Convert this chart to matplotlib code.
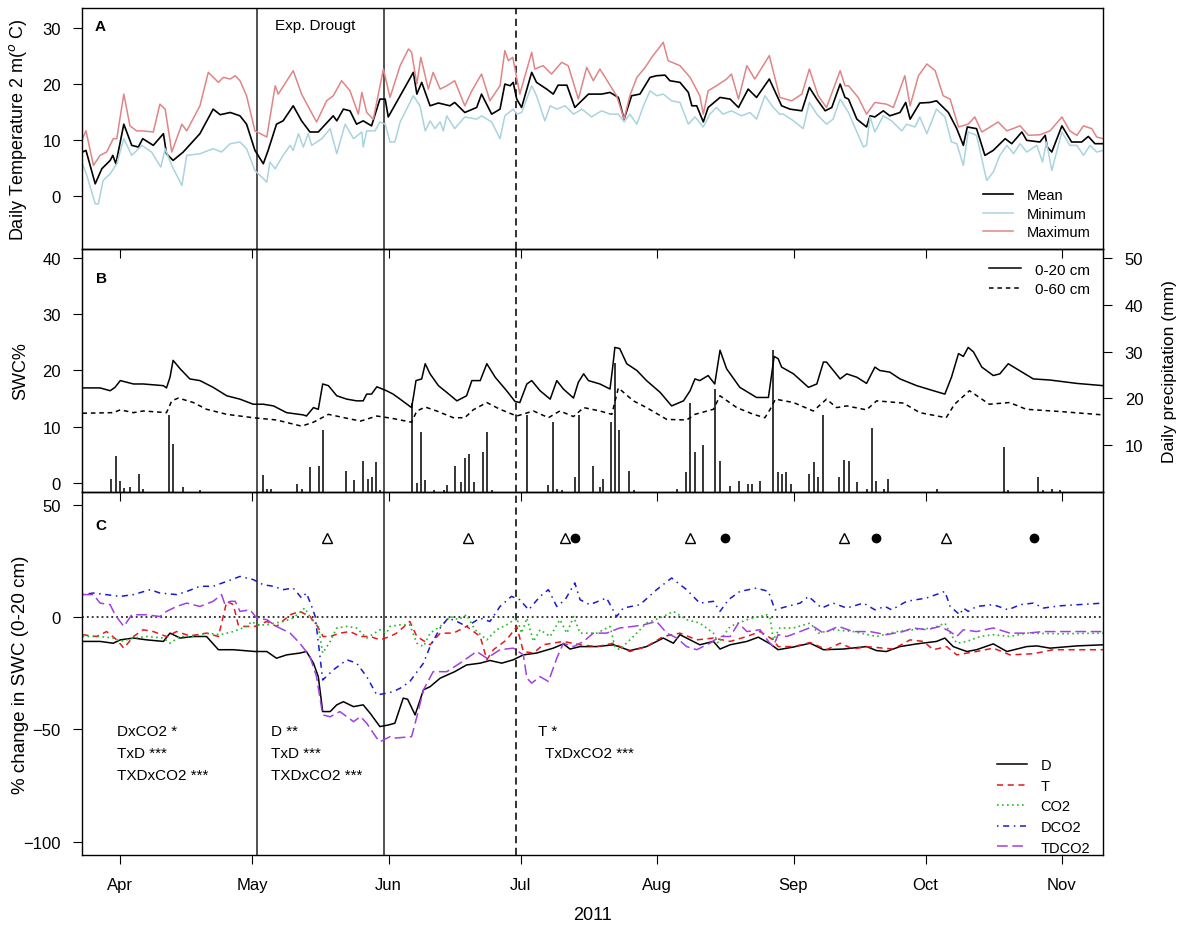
import numpy as np
import pandas as pd
import matplotlib
matplotlib.use('Agg')
import matplotlib.pyplot as plt
import matplotlib.dates as mdates
from matplotlib.lines import Line2D

plt.rcParams['font.family'] = ['Liberation Sans', 'DejaVu Sans']

# all x values are days counted from 1 April 2011
start = pd.Timestamp('2011-04-01')
x_range = [-8.6, 223.4]
exp_lines = [31, 60]          # drought start / end (solid)
dashed_line = 90              # 30 June
month_labels = ['Apr', 'May', 'Jun', 'Jul', 'Aug', 'Sep', 'Oct', 'Nov']

# ---- panel A : daily temperature (day, degC)
temp_mean = [(-8.6,7.8),(-7.8,8.1),(-5.7,2.1),(-4.2,4.8),(-2.3,6.3),(-1.7,7.2),(-1,5.7),(0.8,12.8),(2.6,9.0),
    (4.1,8.7),(5.1,10.2),(7.5,9.0),(9.8,11.1),(10.5,7.5),(12,6.3),(14.3,7.8),(18.1,11.1),(21.1,15.5),(22.7,14.5),
    (25,14.9),(27.2,14.3),(28.7,12.8),(30.6,8.1),(32.5,5.7),(33.6,8.1),(35.5,12.8),(37,13.4),(39.3,16.1),(41.2,13.4),
    (43.1,11.4),(45,11.4),(48.4,14.3),(49.2,13.4),(50.7,15.5),(52.2,15.2),(53.7,12.8),(55.2,13.4),(57.1,12.5),
    (59,17.3),(60.2,17.3),(60.9,14.1),(63.6,17.9),(66.6,22.1),(67.4,18.2),(68.5,20.3),(70.4,16.1),(72.3,16.6),
    (74.9,16.1),(76,16.7),(78.3,14.9),(81,15.8),(82.1,18.2),(84.4,14.6),(86.3,15.5),(87.4,20.0),(88.6,19.7),
    (89.3,20.3),(90.1,17.3),(91.2,15.8),(93.5,22.1),(94.6,20.3),(96.9,19.1),(98.4,18.2),(99.5,19.8),(101.5,19.8),
    (103.3,15.8),(106.4,18.2),(109.4,18.2),(111.3,18.5),(113.2,17.6),(114.5,13.7),(116.2,17.9),(118.1,18.2),
    (120.4,21.2),(121.9,21.5),(123.8,21.6),(124.9,20.6),(127.2,20.3),(129.1,18.5),(129.9,16.1),(131,16.1),
    (132.5,13.2),(133.6,15.8),(136.3,17.6),(138.6,17.3),(140.5,15.8),(142.7,19.1),(144.6,17.6),(147.5,20.9),
    (150.3,16.1),(152.2,15.5),(154.9,15.2),(156.6,19.4),(158.3,17.3),(160.2,15.2),(161.7,15.8),(163.6,20.0),
    (164.7,17.6),(165.5,17.3),(167.4,13.7),(169.6,12.3),(170.4,14.3),(171.5,14.1),(173.4,15.2),(174.9,14.3),
    (177.2,14.9),(178.5,16.7),(179.5,13.7),(181.7,16.6),(184,16.7),(185.5,17.0),(188.2,14.9),(190.1,12.0),
    (191.6,9.0),(192.5,12.3),(194.6,12.0),(196.5,7.2),(198.4,8.1),(201.1,10.2),(202.6,9.3),(204.9,11.4),(206,9.9),
    (209,9.6),(210.2,10.8),(210.7,8.7),(211.7,7.8),(214,12.5),(216.2,9.6),(218.5,9.6),(220,10.6),(221.5,9.3),(223.4,9.3)]

temp_min = [(-8.6,5.7),(-7.6,3.6),(-5.7,-1.5),(-5,-1.5),(-3.9,2.7),(-2.3,3.9),(-0.8,5.7),(0.8,10.2),(2.6,7.2),
    (4.9,9.0),(7.1,7.8),(9.2,5.1),(10.2,8.4),(11.7,5.4),(14,1.8),(15.1,7.2),(18.1,7.5),(21.1,8.4),(23,7.8),(25,9.3),
    (27.2,9.6),(28.7,8.4),(30.6,4.5),(33.3,2.4),(34,6.0),(35.2,4.8),(37,7.2),(38.6,9.0),(39.3,8.1),(40.5,11.1),
    (41.6,8.7),(42.7,11.1),(43.5,9.0),(45.8,10.2),(47.7,12.0),(49.2,7.5),(51.1,12.8),(53,10.2),(54.9,11.4),
    (55.2,8.7),(56,11.6),(57.9,11.6),(59,13.2),(60.2,12.8),(61.3,9.6),(62.4,9.6),(63.6,13.2),(66.6,17.9),
    (68.1,16.1),(69.3,11.6),(70.4,13.4),(71.5,12.0),(72.7,13.2),(73.4,11.6),(74.2,14.3),(76,12.0),(78.3,14.1),
    (81,13.7),(82.1,14.3),(84.4,13.2),(86.3,10.2),(87.4,14.3),(89.3,15.5),(90.1,14.6),(91.2,14.9),(93.5,19.7),
    (94.6,17.9),(96.5,13.4),(97.7,16.1),(99.2,15.5),(101.1,16.1),(103,14.6),(104.9,15.5),(107.1,14.1),(109.4,15.2),
    (111.3,14.6),(113.2,14.6),(114.5,13.2),(115.8,14.6),(117.4,12.8),(118.9,16.1),(120.4,18.8),(121.9,17.9),
    (123.4,18.2),(125.3,17.0),(127.2,16.7),(129.1,12.8),(130.6,14.1),(132.5,12.3),(134,14.6),(135.5,15.8),
    (137,14.6),(138.9,15.2),(141.2,14.3),(143.1,14.9),(144.6,13.7),(146.5,17.9),(148.4,15.8),(149.9,14.6),
    (150.7,14.6),(153,13.4),(155.2,12.0),(156.6,16.7),(158.3,14.6),(160.5,12.8),(162,13.7),(163.6,17.3),
    (165.5,14.9),(167.4,11.4),(168.9,8.7),(169.6,9.0),(170.4,14.1),(171.5,11.4),(173.4,14.3),(175.3,13.4),
    (177.6,11.6),(178.7,12.8),(180.6,12.3),(181.7,14.1),(183.3,11.1),(185.5,15.5),(187.4,14.1),(188.9,9.6),
    (190.1,9.3),(191.6,5.4),(192.7,11.4),(194.6,10.8),(195.8,6.6),(196.9,2.7),(198.4,4.2),(199.9,7.2),(201.5,9.0),
    (203,7.5),(204.5,9.3),(206,7.8),(208.3,9.0),(209.6,6.0),(210.5,9.6),(211.7,4.5),(214,11.4),(215.8,9.0),
    (217.4,9.0),(218.9,7.2),(220.4,9.0),(221.9,7.8),(223.4,8.1)]

temp_max = [(-8.6,10.2),(-7.8,11.6),(-6.1,5.4),(-4.6,7.2),(-3.1,7.8),(-1.6,10.2),(-0.8,10.2),(0.8,18.2),(2.2,12.5),
    (3.7,11.6),(5.1,11.6),(7.5,11.4),(9,16.4),(10.2,15.5),(11.7,7.8),(14,12.8),(15.1,11.6),(18.1,16.1),(20,22.1),
    (22.3,20.3),(23.4,21.2),(25,20.9),(26.1,21.5),(27.2,20.6),(28.7,17.9),(30.6,11.6),(33.3,10.5),(35.2,19.7),
    (35.9,18.2),(39.3,22.4),(41.2,18.2),(44.6,13.2),(46.9,17.0),(48.4,17.9),(50.3,20.6),(52.2,18.8),(54.1,14.6),
    (54.9,18.5),(56,14.9),(57.5,13.7),(59.8,22.7),(61.3,17.6),(63.6,23.3),(65.5,26.3),(66.2,25.7),(67.4,20.0),
    (68.3,24.8),(70,19.1),(71.1,22.1),(72.7,19.1),(74.2,19.7),(76,20.6),(78.3,16.1),(79.9,18.8),(82.1,21.8),
    (84,17.0),(86.3,19.7),(87.4,26.0),(88.2,24.2),(89.2,24.8),(90.8,18.2),(93.5,25.7),(94.2,22.7),(96.1,23.3),
    (98,21.8),(100.3,23.9),(101.8,23.3),(104.1,17.3),(106,23.0),(107.5,20.6),(109,22.7),(110.9,20.3),(112.8,17.9),
    (114.5,13.7),(115.8,17.9),(117.4,21.2),(119.3,23.0),(120.8,24.8),(123.4,27.5),(124.5,24.2),(127.2,23.3),
    (129.5,21.2),(131.7,17.9),(132.5,14.6),(133.6,18.8),(135.5,19.7),(137.8,20.9),(138.9,21.8),(140.5,17.3),
    (142.4,23.3),(144.2,20.9),(147.5,25.1),(149.9,17.6),(152.6,17.0),(154.9,18.2),(156.6,22.7),(158.6,17.9),
    (160.5,15.8),(163.6,22.4),(164.7,19.7),(165.5,19.7),(167.7,17.6),(169.6,14.6),(171.5,16.7),(174.1,16.4),
    (175.7,15.8),(178.3,21.5),(179.5,16.1),(181.4,21.5),(183.3,23.6),(185.2,22.4),(187,17.9),(188.6,17.3),
    (190.5,12.3),(192.7,12.8),(194.2,14.1),(195.8,11.4),(197.7,12.3),(199.5,13.2),(201.5,11.6),(204.5,12.5),
    (206.4,10.8),(209,10.9),(211.3,11.6),(214,14.1),(215.8,11.6),(217.4,10.8),(218.9,12.5),(220.8,12.0),
    (221.9,10.5),(223.4,10.2)]

# ---- panel B : soil water content (%) and precipitation (mm)
swc_20 = [(-8.6,16.9),(-4.6,16.9),(-2.3,16.4),(-1.2,17.0),(0,18.2),(3,17.6),(5.2,17.6),(9.8,17.3),(10.5,16.9),
    (11.3,18.8),(12,21.8),(13.6,20.3),(15.8,18.5),(18.1,18.2),(21.1,17.0),(24.2,15.5),(27.2,14.9),(30.2,14.0),
    (32.5,14.0),(34.8,13.7),(37.8,12.5),(41.6,12.1),(42.3,11.9),(43.9,13.4),(45,13.1),(46,17.6),(47.3,17.3),
    (49.2,15.5),(51.5,14.9),(53.7,14.6),(55.2,14.6),(56,15.8),(57.1,15.8),(58.3,17.1),(60.5,16.4),(62,15.8),
    (63.6,14.9),(66.2,13.4),(66.6,15.2),(67.2,18.2),(68.5,18.5),(69.3,21.2),(70.4,19.4),(72.3,17.3),(74.2,16.1),
    (76.5,14.6),(78.7,15.5),(79.9,18.2),(81.8,18.2),(83.3,21.2),(85.2,18.8),(87.8,16.4),(89.7,14.5),(90.8,14.3),
    (92.4,17.6),(93.5,18.2),(95.4,16.4),(97.7,14.9),(99.2,18.2),(100.7,16.7),(103,15.1),(104.1,17.9),(105.3,19.4),
    (106.4,18.2),(109,17.6),(111.3,16.7),(112,21.2),(112.4,24.1),(113.5,23.9),(115.1,21.2),(117.4,20.0),
    (119.6,18.2),(122.7,16.1),(125.3,13.7),(128,14.6),(129.5,16.4),(130.6,18.5),(131.7,18.2),(133.6,19.1),
    (135.1,17.6),(136.3,23.6),(137.8,20.3),(140.8,17.0),(144.6,15.2),(147.3,15.2),(148.6,22.5),(149.5,22.1),
    (150.3,20.6),(153,19.4),(156.4,17.0),(158.3,17.6),(159.8,21.5),(160.5,21.5),(163.6,18.5),(165.1,19.4),
    (167.4,18.8),(169.6,17.7),(171.5,20.6),(172.6,20.0),(174.9,19.7),(177.2,18.5),(181,17.3),(184.8,16.4),
    (187.4,15.8),(188.9,18.8),(190.5,23.0),(191.6,22.5),(192.7,24.1),(193.9,23.3),(195.8,20.6),(198.4,19.1),
    (199.9,19.4),(201.8,21.2),(203.7,20.3),(207.5,18.5),(211.3,18.3),(217.4,17.7),(223.4,17.3)]

swc_60 = [(-8.6,12.4),(-1.6,12.5),(0,13.0),(3,12.5),(5.2,12.8),(10.5,12.5),(11.7,14.6),(13.2,15.1),(16.6,14.3),
    (19.6,13.1),(24.2,12.2),(30.2,11.6),(35.5,11.2),(41.2,10.1),(43.9,10.8),(47.3,12.2),(51.5,11.5),(54.6,11.0),
    (58.3,11.9),(61.7,11.5),(66.2,10.8),(67.4,12.8),(69.3,13.5),(71.9,12.8),(75.7,11.6),(78.3,11.6),(80.2,13.0),
    (83.3,14.3),(86.3,13.1),(90.1,11.9),(93.9,12.8),(97.3,11.6),(99.9,12.8),(103,11.8),(105.3,13.4),(109,12.8),
    (111.7,12.2),(113.2,16.9),(116.6,14.6),(119.6,13.4),(124.2,11.3),(128.7,11.2),(130.6,12.2),(134.8,13.1),
    (136.3,15.5),(140.1,13.4),(143.9,12.2),(146.5,11.6),(147.7,13.1),(148.9,14.9),(153,14.3),(157.5,12.8),
    (160.5,14.9),(162.8,13.4),(165.1,13.7),(169.6,13.0),(171.9,14.6),(178,14.2),(181.7,12.5),(187.7,11.6),
    (189.6,14.0),(193,16.4),(197.5,14.0),(202.1,14.3),(205.9,13.1),(213.6,12.7),(223.4,12.1)]

precip = [(-2,2.7),(-1,7.6),(0,2.4),(0.9,0.9),(2.2,1.1),(4.2,3.9),(5.2,0.7),(11.1,16.4),(12,10.3),(14.2,1.1),
    (18.1,0.4),(32.4,3.6),(33.3,0.7),(34.2,0.7),(40.1,1.8),(41.2,0.7),(43.1,5.4),(45.2,5.5),(46,13.3),(51.2,4.5),
    (53.2,2.6),(55.2,6.6),(56.2,2.8),(57.1,3.2),(58.1,6.4),(59,0.5),(66.4,18.9),(67.4,1.9),(68.3,12.8),(69.3,2.6),
    (71.3,0.5),(73.5,0.5),(74.2,1.4),(76,5.5),(77.4,2.1),(78.3,7.3),(79.3,8.2),(80.5,2.1),(82.4,8.6),(83.3,12.8),
    (84.5,0.5),(92.5,16.4),(97.3,1.4),(98.3,15.0),(99.3,0.7),(100.3,0.4),(103.3,3.2),(104.3,16.4),(107.5,5.5),
    (109,1.1),(109.6,2.8),(111.5,15.0),(112.4,27.5),(113.4,13.2),(115.5,4.5),(116.7,0.4),(126.5,0.7),(128.6,4.3),
    (129.5,18.9),(130.5,8.6),(132.4,10.0),(135.2,22.1),(136.3,6.6),(138.6,1.2),(140.6,2.4),(142.6,1.6),(143.5,1.8),
    (145.4,2.4),(148.4,30.3),(149.4,4.3),(150.3,3.8),(151.3,4.3),(152.4,1.8),(156.6,3.8),(157.7,6.4),(158.6,3.3),
    (159.6,16.4),(163.4,3.1),(164.5,6.9),(165.5,6.6),(167.4,2.1),(169.6,0.7),(170.8,13.6),(171.7,2.4),(173.6,0.7),
    (174.5,2.8),(185.5,0.7),(200.8,9.5),(201.8,0.4),(208.6,3.2),(209.6,0.4),(211.7,0.7),(213.5,0.4)]

# ---- panel C : % change in SWC (0-20 cm) per treatment
chg_D = [(-8.6,-10.7),(-4.6,-10.7),(-1.6,-11.5),(0,-10.0),(3,-9.2),(6,-10.0),(9.8,-10.7),(11.3,-7.0),(13.6,-9.2),
    (16.6,-8.5),(19.6,-8.5),(22.3,-14.4),(25.7,-14.4),(30.6,-15.2),(33.3,-15.2),(35.5,-18.2),(37.8,-16.7),
    (40.8,-15.9),(42.3,-15.2),(43.9,-20.4),(45,-26.4),(46,-42.0),(47.7,-42.0),(49.2,-39.0),(50.7,-37.6),(53,-39.8),
    (55.2,-39.0),(56.8,-42.8),(59,-48.7),(60.9,-48.0),(62.4,-47.2),(64.3,-36.0),(65.3,-36.5),(67,-43.5),(68.9,-32.3),
    (70.4,-30.9),(72.7,-27.1),(76,-24.2),(78.7,-21.2),(81.8,-20.4),(84,-19.2),(86.7,-20.4),(89.3,-18.9),(91.6,-16.7),
    (94.6,-15.9),(98.4,-13.7),(100.7,-11.8),(102.2,-14.1),(104.5,-13.0),(108.3,-13.0),(112.1,-12.2),(115.8,-14.8),
    (119.6,-13.0),(123.4,-9.2),(125.7,-11.5),(127.2,-7.7),(131.7,-12.2),(134.8,-10.7),(136.3,-14.1),(138.6,-12.2),
    (142.4,-10.7),(145,-8.8),(147.7,-11.8),(149.5,-14.4),(153,-13.2),(156.8,-11.5),(159.8,-14.4),(164.3,-14.1),
    (169.6,-13.0),(171.9,-14.8),(174.1,-15.2),(177.2,-13.0),(181,-11.8),(185.5,-10.7),(187.4,-9.2),(189.3,-13.0),
    (190.8,-14.1),(192.4,-15.2),(194.6,-14.4),(198.4,-11.8),(201.5,-15.2),(206,-13.0),(208.3,-12.7),(211.3,-13.7),
    (217.4,-12.7),(223.4,-12.2)]

chg_T = [(-8.6,-7.7),(-5.4,-8.5),(-3.1,-6.3),(-0.8,-10.0),(0.8,-13.7),(3,-8.5),(5.2,-5.5),(7.5,-6.3),(10.5,-8.5),
    (12.8,-6.3),(15.8,-8.2),(19.6,-7.0),(22.3,-8.5),(24.2,7.2),(25.7,5.7),(26.8,-3.3),(28,-4.0),(30.6,-4.0),
    (33.3,-1.8),(35.5,-4.0),(38.6,1.2),(40.8,2.7),(43.1,0.4),(44.6,-3.3),(46.1,-8.5),(47.7,-8.5),(49.9,-7.0),
    (52.2,-6.3),(54.6,-8.5),(56.8,-8.5),(59,-10.0),(61.3,-8.5),(62.8,-7.0),(65.8,-1.8),(67.4,-8.5),(70.4,-12.2),
    (72.7,-7.0),(75.7,-7.0),(78.7,-4.0),(81.8,-8.5),(83.3,-18.9),(84.8,-14.4),(87.8,-10.0),(90.1,-4.0),(91.6,-15.2),
    (93.9,-15.9),(96.1,-12.2),(100.7,-10.7),(104.5,-12.2),(108.3,-13.0),(112.1,-11.5),(115.8,-15.2),(119.6,-13.0),
    (123.4,-8.5),(127.2,-7.0),(131,-10.0),(134.8,-9.2),(138.6,-10.7),(142.4,-8.5),(145.4,-6.3),(148.4,-10.0),
    (149.5,-13.0),(153,-13.0),(156.8,-11.2),(160.5,-14.4),(163.6,-11.5),(166.6,-14.1),(169.6,-13.0),(175.7,-14.1),
    (179.5,-10.0),(182.5,-10.7),(184.8,-14.4),(187.8,-13.0),(190.1,-16.7),(194.6,-15.2),(198.4,-13.7),(202.2,-16.7),
    (207.5,-16.2),(212,-14.4),(223.4,-14.4)]

chg_CO2 = [(-8.6,-8.5),(-4.6,-8.5),(-1.6,-9.2),(0,-10.7),(3,-9.2),(6,-8.5),(9.8,-9.2),(11.3,-11.5),(13.6,-8.5),
    (16.6,-8.5),(19.6,-7.0),(22.7,-7.7),(25.7,-6.3),(28.7,-4.0),(29.9,-1.8),(31,-3.3),(33.3,-3.3),(37,-1.8),
    (39.3,-0.3),(41.9,4.2),(43.5,-1.0),(45,-4.0),(46,-15.9),(47.7,-10.7),(49.2,-4.7),(51.5,-4.0),(53.7,-4.7),
    (56,-9.2),(59,-5.5),(60.5,-7.0),(61.3,-4.0),(63.6,-3.3),(65.8,-3.3),(67.4,-11.5),(68.9,-13.0),(70.4,-7.0),
    (72.7,-4.0),(75,0.4),(76.8,-1.0),(78.7,1.2),(80.6,-5.5),(83.3,-10.0),(85.5,-5.5),(87.8,-3.3),(90.1,-0.3),
    (91.2,-7.0),(92.4,-0.3),(93.9,-10.7),(95.4,-5.5),(97.7,-8.5),(99.9,-1.0),(101.5,-7.0),(103,0.4),(104.5,-7.0),
    (108.3,-7.0),(111.3,-4.0),(112.4,-13.0),(113.5,-14.4),(116.6,-8.5),(119.6,-2.5),(123.4,0.4),(125.7,2.7),
    (128.7,-1.0),(131.7,-2.5),(134.8,-7.0),(135.9,-11.5),(138.6,-4.0),(142.4,-1.0),(146.9,1.2),(147.7,-0.3),
    (148.4,-10.0),(149.9,-4.7),(153,-4.7),(156.8,-2.5),(158.6,-7.0),(162,-5.5),(166.6,-6.3),(171.9,-8.5),
    (176.4,-6.3),(180.2,-5.5),(184.8,-4.7),(187.4,-2.5),(188.6,-7.0),(190.1,-11.5),(192.4,-10.7),(195.4,-8.5),
    (198.4,-7.7),(202.2,-8.5),(206,-7.0),(213.6,-7.3),(223.4,-7.0)]

chg_DCO2 = [(-8.6,10.2),(-6.1,10.9),(0,9.4),(3,10.2),(6.8,12.4),(9,10.9),(12.8,10.2),(15.1,11.6),(18.1,13.9),
    (21.1,13.9),(24.2,16.1),(27.2,18.3),(30.2,16.9),(32.5,14.6),(34.8,13.9),(37,12.4),(39.3,13.1),(41.2,8.7),
    (42.3,10.9),(43.5,4.9),(44.3,0.4),(45.2,-14.4),(46,-27.9),(48.4,-23.4),(51.5,-18.9),(53.7,-20.4),(56,-26.4),
    (58.3,-34.6),(60.5,-33.8),(62,-33.1),(63.6,-31.6),(65.8,-28.6),(68.9,-20.4),(70.4,-13.0),(72.7,-4.7),
    (74.5,-0.3),(76.5,-1.8),(78.7,-4.0),(81.8,-0.3),(84,-1.8),(86.3,4.9),(88.9,9.4),(90.8,7.9),(92.8,3.4),(95.4,9.4),
    (97.3,12.4),(99.2,4.9),(101.1,7.9),(103.3,15.4),(104.5,7.9),(106.7,5.7),(110.5,8.7),(112.8,0.4),(114.3,4.2),
    (118.1,5.7),(121.9,12.4),(125.3,17.6),(128.7,12.4),(131.7,6.4),(134.8,7.2),(136.3,2.7),(138.2,7.9),(140.8,11.6),
    (144.6,13.1),(147.3,11.6),(148.8,3.4),(151.5,4.9),(154.5,6.4),(156.4,9.4),(159.4,4.2),(162,6.4),(165.1,4.2),
    (168.9,6.4),(171.5,3.4),(173.8,4.9),(175.3,3.4),(178.7,7.2),(183.3,8.7),(187.4,11.6),(188.6,4.9),(190.8,1.2),
    (191.6,4.2),(192.7,2.7),(194.6,4.9),(198.4,5.7),(201.8,3.4),(204.5,5.7),(207.5,6.4),(209.8,4.2),(213.6,5.2),
    (223.4,6.4)]

chg_TDCO2 = [(-8.6,10.2),(-6.1,10.2),(-4.6,6.4),(-2.3,5.7),(-1.2,1.2),(0.8,-4.0),(2.6,1.2),(6,1.2),(9,0.4),
    (10.5,2.7),(12.8,4.9),(15.1,6.4),(18.1,4.9),(21.1,7.2),(23,10.2),(23.8,5.7),(25,7.2),(26.1,7.2),(27.2,2.7),
    (29.5,3.4),(31,-0.3),(33.3,-1.0),(35.5,-4.0),(38.6,-7.0),(40.8,-11.5),(43.1,-17.4),(44.6,-26.4),(46,-43.5),
    (47.7,-44.3),(49.9,-42.0),(51.5,-44.3),(53,-46.5),(54.6,-44.3),(56,-47.2),(58.3,-53.9),(59,-55.5),(61.3,-53.2),
    (62,-53.9),(66.2,-53.2),(67.4,-44.3),(68.9,-32.3),(71.1,-24.2),(74.2,-24.2),(77.2,-20.4),(81,-15.2),(83.3,-18.2),
    (86.3,-14.4),(89.3,-13.7),(91.6,-16.7),(92.4,-27.1),(93.5,-29.3),(95.4,-26.4),(97.3,-28.6),(99.2,-18.2),
    (100.7,-11.5),(103,-13.0),(105.3,-10.7),(107.5,-7.0),(110.5,-7.0),(113.5,-4.7),(116.6,-4.0),(118.9,-3.3),
    (121.9,-1.8),(124.2,-7.0),(126.5,-9.2),(128.7,-13.0),(131,-14.4),(134,-11.5),(136.3,-8.5),(138.6,-8.5),
    (140.5,-2.5),(142.4,-6.3),(145.4,-5.5),(147.3,-10.7),(148.4,-13.0),(149.5,-7.7),(151.5,-8.5),(154.5,-6.3),
    (157.5,-4.0),(159.8,-7.0),(163.2,-4.0),(166.6,-6.3),(170.4,-6.3),(174.1,-7.7),(177.9,-6.3),(180.2,-4.7),
    (183.3,-5.5),(186.3,-4.0),(188.6,-6.3),(190.1,-8.5),(191.6,-5.5),(194.6,-6.3),(198.4,-4.7),(202.2,-7.0),
    (206,-7.0),(209.8,-6.3),(223.4,-6.3)]

triangle_days = [47, 79, 101, 129.5, 164.5, 187.6]
circle_days = [103.3, 137.4, 171.7, 207.7]
marker_level = 35.6


def to_dates(days):
    return start + pd.to_timedelta(np.asarray(days, dtype=float), unit='D')


def split(pairs):
    a = np.array(pairs, dtype=float)
    return to_dates(a[:, 0]), a[:, 1]


fig = plt.figure(figsize=(11.83, 9.28), dpi=100)
left, width = 0.0697, 0.8629
axA = fig.add_axes([left, 0.7306, width, 0.2594])
axB = fig.add_axes([left, 0.4688, width, 0.2618])
axC = fig.add_axes([left, 0.0776, width, 0.3912])
axB.set_facecolor('none')
axC.set_facecolor('none')

xlo, xhi = to_dates(x_range)
month_ticks = pd.date_range('2011-04-01', periods=len(month_labels), freq='MS')
for ax in (axA, axB, axC):
    ax.set_xlim(xlo, xhi)
    ax.set_xticks(month_ticks)
    ax.tick_params(direction='out', length=6.5, width=0.8, labelsize=12, pad=9)
    for s in ax.spines.values():
        s.set_linewidth(1.0)
    for d in exp_lines:
        ax.axvline(to_dates([d])[0], color='#222222', lw=1.1)
    ax.axvline(to_dates([dashed_line])[0], color='#222222', lw=1.3, dashes=(4, 2.5))
axA.set_xticklabels([])
axB.set_xticklabels([])
axC.set_xticklabels(month_labels)

# panel A
axA.plot(*split(temp_mean), color='black', lw=1.2, label='Mean')
axA.plot(*split(temp_min), color='#a9d3e0', lw=1.1, label='Minimum')
axA.plot(*split(temp_max), color='#e08585', lw=1.1, label='Maximum')
axA.set_ylim(-9.6, 33.6)
axA.set_yticks([0, 10, 20, 30])
axA.set_ylabel('Daily Temperature 2 m($^o$ C)', fontsize=13)
axA.yaxis.set_label_coords(-0.052, 0.5)
axA.text(0.012, 0.925, 'A', transform=axA.transAxes, fontsize=11, fontweight='bold', va='center')
axA.text(to_dates([35.2])[0], 30.6, 'Exp. Drougt', fontsize=11, va='center')
axA.legend(loc='lower right', bbox_to_anchor=(1.0, -0.015), frameon=False, fontsize=10.5,
           handlelength=2.1, handletextpad=0.9, labelspacing=0.32)

# panel B
axB.plot(*split(swc_20), color='black', lw=1.1, label='0-20 cm')
axB.plot(*split(swc_60), color='black', lw=1.1, dashes=(3, 2.5), label='0-60 cm')
axB.set_ylim(-1.6, 41.6)
axB.set_yticks([0, 10, 20, 30, 40])
axB.set_ylabel('SWC%', fontsize=13)
axB.yaxis.set_label_coords(-0.052, 0.5)
axB.text(0.013, 0.88, 'B', transform=axB.transAxes, fontsize=11, fontweight='bold', va='center')
axB.legend(loc='upper right', bbox_to_anchor=(1.0, 1.0), frameon=False, fontsize=11,
           handlelength=2.1, handletextpad=0.9, labelspacing=0.35)

axP = axB.twinx()
axP.set_facecolor('none')
pd_, pv = split(precip)
axP.vlines(pd_, 0, pv, color='black', lw=1.1)
axP.set_ylim(0, 51.9)
axP.set_yticks([10, 20, 30, 40, 50])
axP.tick_params(direction='out', length=6.5, width=0.8, labelsize=12, pad=9)
axP.set_ylabel('Daily precipitation (mm)', fontsize=12.5)
axP.yaxis.set_label_coords(1.058, 0.5)

# panel C
axC.axhline(0, color='black', lw=1.1, dashes=(1.2, 2))
axC.plot(*split(chg_D), color='black', lw=1.1, label='D')
axC.plot(*split(chg_T), color='#e31a1c', lw=1.1, dashes=(4, 3), label='T')
axC.plot(*split(chg_CO2), color='#22bb22', lw=1.2, dashes=(1, 2), label='CO2')
axC.plot(*split(chg_DCO2), color='#1a1acc', lw=1.1, dashes=(1, 3, 4, 3), label='DCO2')
axC.plot(*split(chg_TDCO2), color='#a040e0', lw=1.1, dashes=(7, 3), label='TDCO2')
axC.plot(to_dates(triangle_days), [marker_level] * len(triangle_days), ls='none', marker='^',
         mfc='white', mec='black', ms=7.5, mew=1.0)
axC.plot(to_dates(circle_days), [marker_level] * len(circle_days), ls='none', marker='o',
         color='black', ms=6)
axC.set_ylim(-106, 56)
axC.set_yticks([-100, -50, 0, 50])
axC.set_ylabel('% change in SWC (0-20 cm)', fontsize=13.5)
axC.yaxis.set_label_coords(-0.052, 0.5)
axC.text(0.013, 0.909, 'C', transform=axC.transAxes, fontsize=11, fontweight='bold', va='center')

notes = [(-0.8, ['DxCO2 *', 'TxD ***', 'TXDxCO2 ***']),
         (34.2, ['D **', 'TxD ***', 'TXDxCO2 ***'])]
for day, lines in notes:
    for i, t in enumerate(lines):
        axC.text(to_dates([day])[0], -50.7 - 9.85 * i, t, fontsize=11, va='center')
axC.text(to_dates([95])[0], -50.7, 'T *', fontsize=11, va='center')
axC.text(to_dates([96.6])[0], -60.5, 'TxDxCO2 ***', fontsize=11, va='center')

handles = [Line2D([], [], color='black', lw=1.1),
           Line2D([], [], color='#e31a1c', lw=1.1, dashes=(4, 3)),
           Line2D([], [], color='#22bb22', lw=1.2, dashes=(1, 2)),
           Line2D([], [], color='#1a1acc', lw=1.1, dashes=(1, 3, 4, 3)),
           Line2D([], [], color='#a040e0', lw=1.1, dashes=(7, 3))]
axC.legend(handles, ['D', 'T', 'CO2', 'DCO2', 'TDCO2'], loc='lower right', bbox_to_anchor=(1.0, -0.035),
           frameon=False, fontsize=10.5, handlelength=2.1, handletextpad=0.9, labelspacing=0.45)

fig.text(593 / 1183, 1 - 916 / 928, '2011', fontsize=13, ha='center', va='center')

fig.savefig('out.png', dpi=100)
